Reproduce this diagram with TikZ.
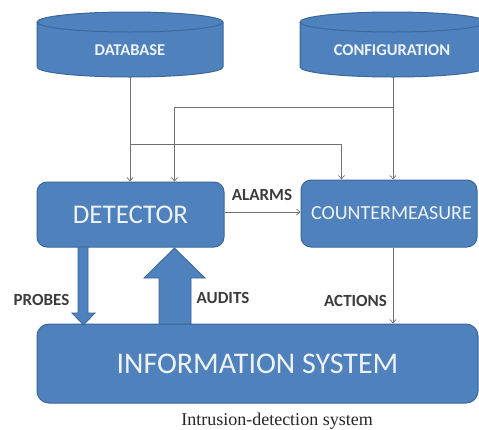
\documentclass[tikz,border=0pt]{standalone}
\usepackage{fontspec}
\setmainfont{Carlito}
\newfontfamily\capfont{Liberation Serif}
\usetikzlibrary{arrows.meta,calc}
\definecolor{boxblue}{HTML}{4F81BD}
\definecolor{boxedge}{HTML}{3A679C}
\definecolor{linegray}{HTML}{707070}
\definecolor{labelgray}{HTML}{3C3C3C}
\definecolor{boxtext}{HTML}{EEF3FA}
\begin{document}
\begin{tikzpicture}[x=1pt,y=-1pt,
  blueshape/.style={fill=boxblue,draw=boxedge,line width=1pt},
  bluebox/.style={blueshape,rounded corners=10pt,text=boxtext,inner sep=0pt},
  conn/.style={draw=linegray,line width=0.7pt,-{Straight Barb[length=3.5pt,width=6pt]}},
  lbl/.style={text=labelgray,font=\fontsize{17}{17}\selectfont\bfseries,inner sep=0pt},
  cyltext/.style={text=boxtext,font=\fontsize{16.5}{17}\selectfont\bfseries,inner sep=0pt}
]
\useasboundingbox (0,0) rectangle (479,429);
\fill[white] (0,0) rectangle (479,429);

% database cylinder
\path[blueshape] (37,22) -- (37,67)
  arc[start angle=180,end angle=0,x radius=93,y radius=10] -- (223,22)
  arc[start angle=0,end angle=-180,x radius=93,y radius=10] -- cycle;
\draw[boxedge,line width=1pt] (37,22) arc[start angle=180,end angle=0,x radius=93,y radius=10];
\node[cyltext] (db) at (130,50) {DATABASE};
\coordinate (dbb) at (130,77);

% configuration cylinder
\path[blueshape] (300,22) -- (300,67)
  arc[start angle=180,end angle=0,x radius=93,y radius=10] -- (486,22)
  arc[start angle=0,end angle=-180,x radius=93,y radius=10] -- cycle;
\draw[boxedge,line width=1pt] (300,22) arc[start angle=180,end angle=0,x radius=93,y radius=10];
\node[cyltext] (cfg) at (392,50) {CONFIGURATION};
\coordinate (cfgb) at (393,77);

% boxes
\node[bluebox,minimum width=187pt,minimum height=65pt,font=\fontsize{27}{27}\selectfont] (det) at (130.5,214.5) {DETECTOR};
\node[bluebox,minimum width=176pt,minimum height=67pt,inner xsep=0pt,font=\fontsize{20}{20}\selectfont] (cm) at (389,213.5) {\hspace*{5pt}COUNTERMEASURE};
\node[bluebox,rounded corners=12pt,minimum width=441pt,minimum height=79pt,font=\fontsize{30}{30}\selectfont] (info) at (257.5,363.5) {INFORMATION SYSTEM};

% thin connectors
\draw[conn] (dbb) -- (dbb |- det.north);
\draw[conn] (cfgb) -- (cfgb |- cm.north);
\draw[conn] ($(dbb)+(0,67)$) -| ($(cm.north west)+(41,0)$);
\draw[conn] ($(cfgb)+(0,30)$) -| ($(det.north west)+(138,0)$);
\draw[conn] (det.east |- 0,212) -- (cm.west |- 0,212);
\draw[conn] (cfgb |- cm.south) -- (cfgb |- info.north);

% fat arrows
\path[blueshape,line width=0.8pt] (78,247) -- (88,247) -- (88,313) -- (95,313) -- (83.5,325) -- (72,313) -- (78,313) -- cycle;
\path[blueshape,line width=0.8pt] (159,324) -- (159,278) -- (144,278) -- (174.5,248) -- (205,278) -- (191,278) -- (191,324) -- cycle;

% labels
\node[lbl] (lalarms) at (262,195) {ALARMS};
\node[lbl] (lprobes) at (41.5,300) {PROBES};
\node[lbl] (laudits) at (223,298) {AUDITS};
\node[lbl] (lactions) at (355.5,301) {ACTIONS};

\node[font=\capfont\fontsize{18}{18}\selectfont,text=black!85,inner sep=0pt] (cap) at (277,421) {Intrusion-detection system};
\end{tikzpicture}
\end{document}
